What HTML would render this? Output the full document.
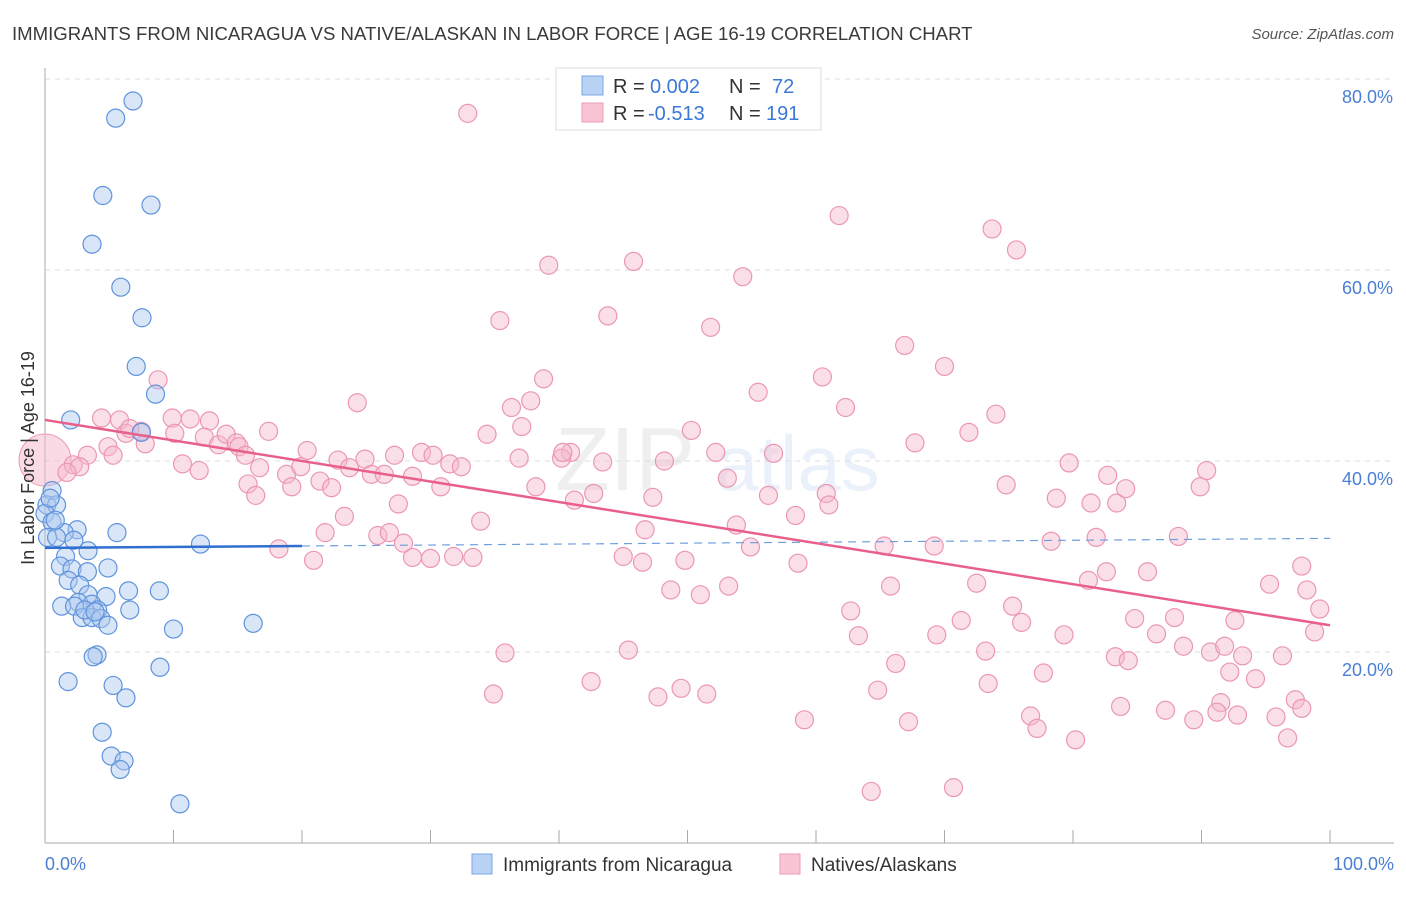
<!DOCTYPE html>
<html><head><meta charset="utf-8"><style>
body{margin:0;background:#fff;font-family:"Liberation Sans",sans-serif;}
svg text{font-family:"Liberation Sans",sans-serif;}
</style></head><body>
<svg id="chart" width="1406" height="892" viewBox="0 0 1406 892">
<text x="12" y="40" font-size="18.6" fill="#3a3a3a">IMMIGRANTS FROM NICARAGUA VS NATIVE/ALASKAN IN LABOR FORCE | AGE 16-19 CORRELATION CHART</text>
<text x="1394" y="39" font-size="15" fill="#555" font-style="italic" text-anchor="end">Source: ZipAtlas.com</text>
<text x="555" y="490" font-size="90" fill="#000" opacity="0.06" font-family="Liberation Serif">ZIP</text>
<text x="715" y="490" font-size="78" fill="#4a7fd4" opacity="0.1">atlas</text>
<g id="grid"></g><g id="axes"></g><g id="pts"></g><g id="lines"></g>
<text transform="translate(34,458) rotate(-90)" font-size="18" fill="#333" text-anchor="middle">In Labor Force | Age 16-19</text>
<text x="45" y="870" font-size="18" fill="#4a7fd4">0.0%</text>
<text x="1394" y="870" font-size="18" fill="#4a7fd4" text-anchor="end">100.0%</text>
<g>
<rect x="556" y="68" width="265" height="62" fill="#fff" stroke="#ddd"/>
<rect x="582" y="76" width="21" height="19" fill="#b9d3f5" stroke="#7aa6e6"/>
<rect x="582" y="103" width="21" height="19" fill="#f9c4d4" stroke="#ec9bb5"/>
<text x="613" y="93" font-size="20" fill="#333">R = <tspan x="650" fill="#3b78d8">0.002</tspan></text>
<text x="729" y="93" font-size="20" fill="#333">N = <tspan x="772" fill="#3b78d8">72</tspan></text>
<text x="613" y="120" font-size="20" fill="#333">R = <tspan x="648" fill="#3b78d8">-0.513</tspan></text>
<text x="729" y="120" font-size="20" fill="#333">N = <tspan x="766" fill="#3b78d8">191</tspan></text>
</g>
<g>
<rect x="472" y="854" width="20" height="20" fill="#b9d3f5" stroke="#7aa6e6"/>
<text x="503" y="871" font-size="19" fill="#333">Immigrants from Nicaragua</text>
<rect x="780" y="854" width="20" height="20" fill="#f9c4d4" stroke="#ec9bb5"/>
<text x="811" y="871" font-size="19" fill="#333">Natives/Alaskans</text>
</g>
</svg>
<script>
const yTicks=[20,40,60,80];
const yTickLabels=["20.0%","40.0%","60.0%","80.0%"];
const xTicks=[0,10,20,30,40,50,60,70,80,90,100];
const blueX=[6.85,5.5,4.5,8.25,3.66,5.9,7.55,7.1,8.6,2.0,7.5,0.55,0.15,0.9,0,0.55,2.5,1.5,5.6,0.2,0.9,2.25,3.35,1.6,12.1,1.2,2.1,4.9,3.3,1.8,2.7,6.5,8.9,3.35,4.75,2.6,3.65,1.3,2.3,4.1,6.6,2.9,3.65,4.35,4.9,10.0,16.2,4.05,3.75,8.95,1.8,5.3,6.3,4.45,5.15,6.15,5.85,10.5,0.4,0.8,3.1,3.9];
const blueY=[77.7,75.9,67.8,66.8,62.7,58.2,55.0,49.9,47.0,44.3,43.0,36.9,35.4,35.4,34.5,33.6,32.8,32.5,32.5,32.0,32.0,31.7,30.6,30.0,31.3,29.0,28.7,28.8,28.4,27.5,27.0,26.4,26.4,26.0,25.8,25.2,25.0,24.8,24.8,24.4,24.4,23.6,23.6,23.5,22.8,22.4,23.0,19.7,19.5,18.4,16.9,16.5,15.2,11.6,9.1,8.6,7.7,4.1,36.1,33.8,24.4,24.2];
const pinkX=[32.9,61.8,73.7,75.6,39.2,45.8,54.3,35.4,43.8,51.8,66.9,70.0,60.5,8.8,38.8,55.5,37.8,24.3,36.3,62.3,4.4,5.8,12.8,9.9,11.3,74.0,34.4,37.1,40.9,50.3,7.5,17.4,10.1,12.4,13.5,14.1,14.9,7.8,15.1,15.6,6.3,6.6,67.7,71.9,3.3,4.9,5.3,20.4,22.8,24.9,27.2,29.3,30.2,31.5,32.4,36.9,40.2,40.3,43.4,48.2,52.2,56.7,79.7,82.7,90.4,2.2,2.7,1.7,10.7,12.0,16.7,18.8,19.9,23.7,25.4,26.4,28.6,30.8,38.2,42.7,47.3,53.1,56.3,60.8,61.0,74.8,78.7,81.4,83.4,84.1,89.9,15.8,16.4,19.2,21.4,22.3,27.5,33.9,23.3,41.2,58.4,53.8,21.8,25.9,26.8,27.9,46.7,69.2,65.3,78.3,81.8,88.2,18.2,20.9,28.6,30.0,31.8,33.3,45.0,46.5,49.8,58.6,54.9,81.2,82.6,85.8,95.3,97.8,98.2,72.5,65.8,48.7,51.0,53.2,62.7,75.3,76.0,71.3,84.8,87.9,92.6,99.2,63.3,69.4,79.3,86.5,98.8,45.4,35.8,73.2,83.3,88.6,90.7,91.8,93.2,96.3,84.3,66.2,77.7,92.2,94.2,42.5,49.5,51.5,47.7,34.9,64.8,73.4,83.7,91.5,87.2,97.3,97.8,76.7,89.4,91.2,92.8,95.8,59.1,67.2,77.2,80.2,96.7,64.3,70.7];
const pinkY=[76.4,65.7,64.3,62.1,60.5,60.9,59.3,54.7,55.2,54.0,52.1,49.9,48.8,48.5,48.6,47.2,46.3,46.1,45.6,45.6,44.5,44.3,44.2,44.5,44.4,44.9,42.8,43.6,40.9,43.2,43.1,43.1,42.9,42.5,41.7,42.8,41.9,41.8,41.5,40.6,42.9,43.4,41.9,43.0,40.6,41.5,40.6,41.1,40.1,40.2,40.6,40.9,40.6,39.7,39.4,40.3,40.3,40.9,39.9,40.0,40.9,40.8,39.8,38.5,39.0,39.6,39.4,38.8,39.7,39.0,39.3,38.6,39.4,39.3,38.6,38.6,38.4,37.3,37.3,36.6,36.2,38.2,36.4,36.6,35.4,37.5,36.1,35.6,35.6,37.1,37.3,37.6,36.4,37.3,37.9,37.2,35.5,33.7,34.2,35.9,34.3,33.3,32.5,32.2,32.5,31.4,32.8,31.1,31.1,31.6,32.0,32.1,30.8,29.6,29.9,29.8,30.0,29.9,30.0,29.4,29.6,29.3,31.0,27.5,28.4,28.4,27.1,29.0,26.5,27.2,26.9,26.5,26.0,26.9,24.3,24.8,23.1,23.3,23.5,23.6,23.3,24.5,21.7,21.8,21.8,21.9,22.1,20.2,19.9,20.1,19.5,20.6,20.0,20.6,19.6,19.6,19.1,18.8,17.8,17.9,17.2,16.9,16.2,15.6,15.3,15.6,16.0,16.7,14.3,14.7,13.9,15.0,14.1,13.3,12.9,13.7,13.4,13.2,12.9,12.7,12.0,10.8,11.0,5.4,5.8];
const bigPink=[0,40.1];
const blueTrend=[30.9,31.9];
const pinkTrend=[44.3,22.8];
const NS="http://www.w3.org/2000/svg";
function xs(v){return 45+v*12.85;}
function ys(v){return 843-v*9.55;}
function mk(tag,attrs,parent){const e=document.createElementNS(NS,tag);for(const k in attrs)e.setAttribute(k,attrs[k]);parent.appendChild(e);return e;}
const gridG=document.getElementById('grid'),axesG=document.getElementById('axes'),ptsG=document.getElementById('pts'),linesG=document.getElementById('lines');
yTicks.forEach((t,i)=>{
 const l=mk('line',{x1:45,x2:1394,y1:ys(t),y2:ys(t),stroke:'#ddd','stroke-dasharray':'5,5'},gridG);
 
 
 const tx=mk('text',{x:1393,y:ys(t)+24,'font-size':18,fill:'#4a7fd4','text-anchor':'end'},gridG);
 tx.textContent=yTickLabels[i];
 
 
});
const ya=mk('line',{x1:45,x2:45,y1:68,y2:843,stroke:'#aaa'},axesG);


const xa=mk('line',{x1:45,x2:1394,y1:843,y2:843,stroke:'#aaa'},axesG);


xTicks.forEach(t=>{
 const tk=mk('line',{x1:xs(t),x2:xs(t),y1:830,y2:843,stroke:'#aaa'},axesG);
 
 
});
const bp=mk('circle',{cx:xs(bigPink[0]),cy:ys(bigPink[1]),r:26,fill:'#f5b8cb','fill-opacity':0.5,stroke:'#ec9bb5'},ptsG);


pinkX.forEach((x,i)=>{
 const c=mk('circle',{cx:xs(x),cy:ys(pinkY[i]),r:9,fill:'#f5b8cb','fill-opacity':0.45,stroke:'#eb97b2','stroke-width':1.2},ptsG);
 
 
});
blueX.forEach((x,i)=>{
 const c=mk('circle',{cx:xs(x),cy:ys(blueY[i]),r:9,fill:'#aac8f0','fill-opacity':0.45,stroke:'#5f93dc','stroke-width':1.2},ptsG);
 
 
});
const bMid=blueTrend[0]+(blueTrend[1]-blueTrend[0])*0.2;
const bt=mk('line',{x1:xs(0),y1:ys(blueTrend[0]),x2:xs(20),y2:ys(bMid),stroke:'#2f6fd0','stroke-width':2.5},linesG);


const bd=mk('line',{x1:xs(20),y1:ys(bMid),x2:xs(100),y2:ys(blueTrend[1]),stroke:'#6f9fe0','stroke-width':1.2,'stroke-dasharray':'8,6'},linesG);


const pt=mk('line',{x1:xs(0),y1:ys(pinkTrend[0]),x2:xs(100),y2:ys(pinkTrend[1]),stroke:'#e8608a','stroke-width':2.5},linesG);


</script>
</body></html>
